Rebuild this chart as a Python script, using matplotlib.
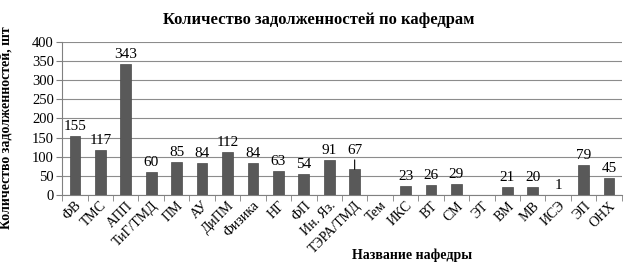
import numpy as np
import matplotlib
matplotlib.use('Agg')
import matplotlib.pyplot as plt

# Данные по кафедрам
kafedry = ['ФВ', 'ТМС', 'АПП', 'ТиГ/ТМД', 'ПМ', 'АУ', 'ДиПМ', 'Физика', 'НГ', 'ФП',
           'Ин. Яз.', 'ТЭРА/ТМД', 'Тем', 'ИКС', 'ВТ', 'СМ', 'ЭТ', 'ВМ', 'МВ', 'ИСЭ',
           'ЭП', 'ОНХ']
zadolzh = [155, 117, 343, 60, 85, 84, 112, 84, 63, 54,
           91, 67, np.nan, 23, 26, 29, np.nan, 21, 20, 1,
           79, 45]
y_ticks = [0, 50, 100, 150, 200, 250, 300, 350, 400]

plt.rcParams['font.family'] = ['Liberation Serif', 'DejaVu Serif']

fig = plt.figure(figsize=(6.28, 2.72), dpi=100)
ax = fig.add_axes([0.099, 0.283, 0.891, 0.563])

x = np.arange(len(kafedry))
vals = np.array(zadolzh, dtype=float)
ax.bar(x, np.nan_to_num(vals), width=0.42, color='#595959', edgecolor='#4a4a4a',
       linewidth=0.5, zorder=3)

# подписи значений
for xi, v in zip(x, vals):
    if np.isnan(v):
        continue
    if kafedry[xi] == 'ТЭРА/ТМД':
        ax.annotate(f'{int(v)}', xy=(xi, v), xytext=(xi, v + 32), ha='center',
                    va='bottom', fontsize=11,
                    arrowprops=dict(arrowstyle='-', color='black', lw=0.8,
                                    shrinkA=0, shrinkB=0))
    else:
        ax.text(xi, v + 8, f'{int(v)}', ha='center', va='bottom', fontsize=11)

ax.set_xlim(-0.5, len(kafedry) - 0.5)
ax.set_ylim(0, 400)
ax.set_yticks(y_ticks)
ax.set_xticks(x)
ax.set_xticklabels(kafedry, rotation=45, ha='right', rotation_mode='anchor', fontsize=10)
ax.tick_params(axis='x', length=0, pad=3)
ax.set_xticks(np.arange(-0.5, len(kafedry)), minor=True)
ax.tick_params(axis='x', which='minor', length=4, color='#808080')
ax.tick_params(axis='y', labelsize=10.5, length=4, color='#808080', pad=2)

ax.grid(axis='y', color='#8c8c8c', linewidth=0.8, zorder=0)
for s in ['top', 'right']:
    ax.spines[s].set_visible(False)
ax.spines['left'].set_color('#808080')
ax.spines['bottom'].set_color('#808080')

fig.text(0.507, 0.925, 'Количество задолженностей по кафедрам', fontsize=12,
         fontweight='bold', ha='center', va='center')
ax.set_xlabel('Название нафедры', fontsize=10, fontweight='bold', labelpad=0)
ax.xaxis.set_label_coords(0.625, -0.35)
ax.set_ylabel('Количество задолженностей, шт', fontsize=10, fontweight='bold',
              labelpad=4)
ax.yaxis.set_label_coords(-0.088, 0.44)

fig.savefig('out.png', dpi=100)
